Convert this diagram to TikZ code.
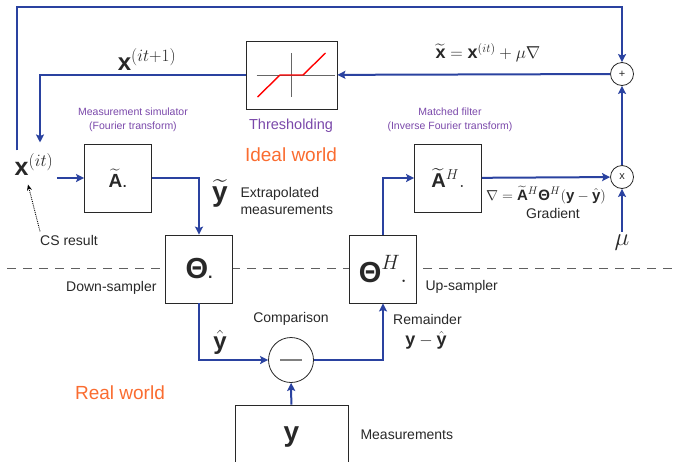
\documentclass[tikz,border=0pt]{standalone}
\usepackage{amsmath}
\usepackage{fontspec}
\setmainfont{Liberation Sans}
\usetikzlibrary{arrows.meta,positioning}
\definecolor{flowblue}{RGB}{42,66,160}
\definecolor{notepurple}{RGB}{122,72,170}
\definecolor{worldorange}{RGB}{250,108,48}
\definecolor{inkgray}{RGB}{40,40,40}
\newcommand{\bv}[1]{\text{\bfseries #1}}
% tilde A whose superscript sits at the letter, not above the tilde
\newcommand{\tA}{\rlap{$\widetilde{\phantom{\bv{A}}}$}\bv{A}}

\begin{document}
\begin{tikzpicture}[x=1pt,y=-1pt,
  font=\fontsize{14}{17}\selectfont, text=inkgray,
  box/.style={draw=inkgray,fill=white,line width=0.8pt,minimum width=67pt,
              minimum height=68pt,inner sep=0pt},
  sumnode/.style={circle,draw=inkgray,fill=white,line width=0.8pt,inner sep=0pt,
              minimum size=23pt,font=\fontsize{11}{11}\selectfont},
  flow/.style={draw=flowblue,line width=2pt,
              -{Stealth[length=8pt,width=8pt,inset=1.5pt]}},
  note/.style={text=notepurple,align=center,font=\fontsize{10.5}{13.5}\selectfont},
  world/.style={text=worldorange,font=\fontsize{19}{22}\selectfont},
  caption/.style={align=left}]
\useasboundingbox (0,0) rectangle (676,461);

% reality border, drawn first so the blocks sit on top of it
\coordinate (divl) at (7,268);
\coordinate (divr) at (676,268);
\draw[gray!75!black,line width=0.8pt,dash pattern=on 9pt off 7pt] (divl) -- (divr);

\node[box] (abox) at (118,178) {\fontsize{19}{19}\selectfont$\widetilde{\bv{A}}$.};
\node[box] (theta) at (199,269) {\fontsize{29}{29}\selectfont\bfseries Θ\fontsize{16}{16}\selectfont.};
\node[box] (thetah) at (383,269) {\fontsize{29}{29}\selectfont$\bv{Θ}^{H}.$};
\node[box] (ah) at (448,178) {\fontsize{20}{20}\selectfont$\tA^{H}.$};
\node[box,minimum width=91pt] (thr) at (291.5,75) {};
\node[box,minimum width=113pt,minimum height=64pt] (ybox) at (291.5,437)
     {\fontsize{28}{28}\selectfont\bfseries y};

\node[sumnode] (plus) at (622,74) {+};
\node[sumnode] (times) at (622,177) {x};
\node[sumnode,minimum size=45pt] (minus) at (291,360) {};
\draw[gray,line width=1.2pt] ([xshift=-11pt]minus.center) -- ([xshift=11pt]minus.center);

% soft threshold curve
\begin{scope}[shift={(thr.center)}]
  \draw[gray!80!black,line width=0.8pt] (-35,0) -- (43,0) (0,-22) -- (0,22);
  \draw[red,line width=1.4pt] (-34,22) -- (-11.5,0) -- (11.5,0) -- (34,-22);
\end{scope}

\node (xit) at (34,165) {\fontsize{25}{25}\selectfont$\bv{x}^{(it)}$};
\node (xnext) at (147,60) {\fontsize{24}{24}\selectfont$\bv{x}^{(it+1)}$};
\node (xtil) at (488,53) {\fontsize{18}{18}\selectfont$\widetilde{\bv{x}}=\bv{x}^{(it)}+\mu\nabla$};
\node (mu) at (622,243) {\fontsize{24}{24}\selectfont$\mu$};
\node (ytil) at (220,193) {\fontsize{28}{28}\selectfont$\widetilde{\bv{y}}$};
\node[inner sep=1pt] (yhat) at (220,342) {\fontsize{24}{24}\selectfont$\hat{\bv{y}}$};
\node (grad) at (546,195) {\fontsize{15}{15}\selectfont
     $\nabla=\tA^{H}\bv{Θ}^{H}(\bv{y}-\hat{\bv{y}})$};
\node (gradtxt) at (553,213) {Gradient};

\node[caption,anchor=west] (extrap) at (237,201) {Extrapolated\\measurements};
\node (csres) at (69,240) {CS result};
\node[anchor=east] (down) at (160,288) {Down-sampler};
\node[anchor=west] (up) at (422,287) {Up-sampler};
\node[above=8pt of minus] (comp) {Comparison};
\node[anchor=west,inner sep=1pt] (remain) at (392,319) {Remainder};
\node[inner sep=1pt] (resid) at (426,340) {\fontsize{18}{18}\selectfont$\bv{y}-\hat{\bv{y}}$};
\node[anchor=west] (meas) at (357,435) {Measurements};

\node[note] (simnote) at (133,120) {Measurement simulator\\(Fourier transform)};
\node[note] (mfnote) at (450,120) {Matched filter\\(Inverse Fourier transform)};
\node[text=notepurple,font=\fontsize{14.5}{17}\selectfont] (thrtxt) at (291,126) {Thresholding};
\node[world] (ideal) at (291,155) {Ideal world};
\node[world] (real) at (120,393) {Real world};

% iteration loop
\coordinate (tl) at (17,7);
\draw[flow] (xit.north -| tl) -- (tl) -| (plus);
\draw[flow] (times) -- (plus);
\draw[flow] (mu) -- (times);
\draw[flow] (plus) -- (thr);
\draw[flow] (thr) -| ([xshift=6pt,yshift=8pt]xit.north);
\draw[flow] (xit.east |- abox) -- (abox);
\draw[flow] (abox) -| (theta);
\draw[flow] (theta) |- (minus);
\draw[flow] (ybox) -- (minus);
\draw[flow] (minus) -| (thetah);
\draw[flow] (thetah) |- (ah);
\draw[flow] (ah) -- (times);
\draw[densely dotted,line width=0.9pt,-{Stealth[length=6pt,width=5pt]}]
     ([xshift=-29pt]csres.north) -- ([xshift=-6pt,yshift=-5pt]xit.south);
\end{tikzpicture}
\end{document}
